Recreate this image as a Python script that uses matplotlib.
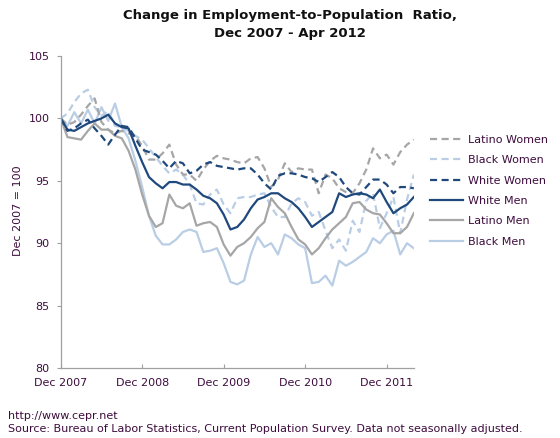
import matplotlib
matplotlib.use("Agg")
import matplotlib.pyplot as plt
import pandas as pd

months = pd.date_range("2007-12-01", periods=53, freq="MS")
month_labels = [d.strftime("%b %Y") for d in months]
tick_labels = ["Dec 2007", "Dec 2008", "Dec 2009", "Dec 2010", "Dec 2011"]

latino_women = [100.0, 99.5, 99.7, 100.3, 101.0, 101.6, 99.7, 99.1, 98.8, 99.0,
                98.8, 98.6, 97.8, 96.7, 96.7, 97.2, 97.9, 96.3, 95.5, 95.5,
                95.0, 95.9, 96.6, 97.0, 96.8, 96.7, 96.5, 96.4, 96.8, 96.9,
                96.0, 94.5, 95.1, 96.4, 95.7, 96.0, 95.9, 95.9, 94.0, 95.5,
                95.2, 94.4, 94.1, 94.0, 94.8, 95.9, 97.6, 96.8, 97.1, 96.3,
                97.3, 97.9, 98.3]
black_women = [100.0, 100.4, 101.3, 102.0, 102.3, 100.9, 100.2, 100.6, 99.4, 99.3,
               99.0, 98.6, 98.3, 97.6, 96.9, 96.2, 95.6, 95.9, 95.5, 94.7,
               93.2, 93.1, 93.9, 94.3, 93.1, 92.4, 93.6, 93.7, 93.7, 93.9,
               94.0, 92.9, 92.1, 92.1, 93.2, 93.6, 93.3, 92.2, 92.5, 91.0,
               89.6, 90.3, 89.4, 91.8, 90.9, 93.4, 94.0, 91.2, 92.4, 93.7,
               90.8, 93.5, 95.5]
white_women = [100.0, 99.0, 99.2, 99.6, 99.9, 99.2, 98.6, 97.9, 98.7, 99.4,
               99.3, 98.4, 97.5, 97.3, 97.1, 96.6, 96.0, 96.6, 96.4, 95.6,
               95.8, 96.3, 96.5, 96.2, 96.1, 96.0, 95.9, 96.0, 96.0, 95.5,
               94.8, 94.3, 95.4, 95.6, 95.6, 95.5, 95.3, 95.2, 94.9, 95.3,
               95.7, 95.3, 94.5, 94.0, 93.9, 94.5, 95.1, 95.1, 94.7, 94.0,
               94.5, 94.5, 94.4]
white_men = [100.0, 99.1, 99.0, 99.3, 99.6, 99.8, 100.0, 100.3, 99.6, 99.3,
             99.2, 97.8, 96.5, 95.3, 94.8, 94.4, 94.9, 94.9, 94.7, 94.7,
             94.3, 93.8, 93.6, 93.2, 92.3, 91.1, 91.3, 91.9, 92.8, 93.5,
             93.7, 94.0, 94.0, 93.6, 93.3, 92.8, 92.1, 91.3, 91.7, 92.1,
             92.5, 94.0, 93.7, 93.9, 94.0, 93.9, 93.6, 94.3, 93.3, 92.4,
             92.8, 93.1, 93.7]
latino_men = [100.0, 98.5, 98.4, 98.3, 99.0, 99.6, 99.1, 99.1, 98.6, 98.4,
              97.4, 95.9, 93.9, 92.2, 91.3, 91.6, 93.9, 93.0, 92.8, 93.2,
              91.4, 91.6, 91.7, 91.3, 89.9, 89.0, 89.7, 90.0, 90.5, 91.2,
              91.7, 93.6, 92.9, 92.4, 91.3, 90.3, 89.9, 89.1, 89.6, 90.4,
              91.1, 91.6, 92.1, 93.2, 93.3, 92.7, 92.4, 92.3, 91.6, 90.8,
              90.8, 91.3, 92.4]
black_men = [100.0, 99.4, 100.5, 99.6, 100.7, 99.6, 100.9, 99.8, 101.2, 99.3,
             98.4, 96.6, 94.5, 92.2, 90.6, 89.9, 89.9, 90.3, 90.9, 91.1,
             90.9, 89.3, 89.4, 89.6, 88.4, 86.9, 86.7, 87.0, 89.1, 90.5,
             89.7, 90.0, 89.1, 90.7, 90.4, 89.9, 89.6, 86.8, 86.9, 87.4,
             86.6, 88.6, 88.2, 88.5, 88.9, 89.3, 90.4, 90.0, 90.7, 91.0,
             89.1, 90.0, 89.6]

GRAY = "#A6A6A6"
LIGHT = "#B9CDE5"
DARK = "#1F497D"
TXT = "#3D0C3D"

fig = plt.figure(figsize=(5.6, 4.38), dpi=100)
ax = fig.add_axes([60.7 / 560, 1 - 368 / 438, (413.8 - 60.7) / 560, (368 - 56) / 438])

x = list(range(len(month_labels)))
dash = (0, (3.2, 2.0))
lw = 1.6
series = [
    ("Black Men", black_men, LIGHT, "-"),
    ("Black Women", black_women, LIGHT, dash),
    ("Latino Men", latino_men, GRAY, "-"),
    ("Latino Women", latino_women, GRAY, dash),
    ("White Women", white_women, DARK, dash),
    ("White Men", white_men, DARK, "-"),
]
handles = {}
for name, vals, col, ls in series:
    ln, = ax.plot(x, vals, color=col, linestyle=ls, linewidth=lw, label=name)
    handles[name] = ln

ax.set_xlim(0, len(month_labels) - 1)
ax.set_ylim(80, 105)
ax.set_yticks([80, 85, 90, 95, 100, 105])
ax.set_xticks([month_labels.index(t) for t in tick_labels])
ax.set_xticklabels(tick_labels)

for s in ["top", "right"]:
    ax.spines[s].set_visible(False)
for s in ["left", "bottom"]:
    ax.spines[s].set_color("#A0A0A0")
    ax.spines[s].set_linewidth(0.9)
ax.tick_params(axis="y", direction="out", length=3, width=0.8, color="#A0A0A0",
               labelsize=8, labelcolor=TXT, pad=5)
ax.tick_params(axis="x", direction="in", length=3, width=0.8, color="#A0A0A0",
               labelsize=8, labelcolor=TXT, pad=7)

fig.text(290 / 560, 1 - 16 / 438, "Change in Employment-to-Population  Ratio,",
         ha="center", va="center", fontsize=9.5, fontweight="bold", color="#111111")
fig.text(290 / 560, 1 - 33 / 438, "Dec 2007 - Apr 2012",
         ha="center", va="center", fontsize=9.5, fontweight="bold", color="#111111")
fig.text(18 / 560, 1 - 211 / 438, "Dec 2007 = 100", rotation=90, ha="center",
         va="center", fontsize=8, color=TXT)

order = ["Latino Women", "Black Women", "White Women", "White Men", "Latino Men", "Black Men"]
fig.legend([handles[n] for n in order], order, loc="upper left",
           bbox_to_anchor=(430 / 560, 1 - 135 / 438), frameon=False, fontsize=8,
           handlelength=3.0, handletextpad=0.45, labelspacing=0.93,
           borderpad=0, borderaxespad=0, labelcolor=TXT)

fig.text(8 / 560, 1 - 416 / 438, "http://www.cepr.net", ha="left", va="center",
         fontsize=8, color=TXT)
fig.text(8 / 560, 1 - 429 / 438,
         "Source: Bureau of Labor Statistics, Current Population Survey. Data not seasonally adjusted.",
         ha="left", va="center", fontsize=8, color=TXT)

fig.savefig("out.png", dpi=100)
